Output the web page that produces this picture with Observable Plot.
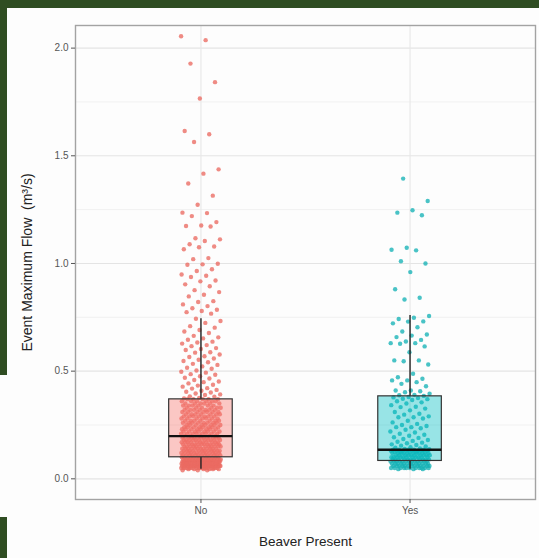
<!DOCTYPE html>
<html><head><meta charset="utf-8">
<script src="https://cdn.jsdelivr.net/npm/d3@7"></script>
<script src="https://cdn.jsdelivr.net/npm/@observablehq/plot@0.6"></script>
<style>
html,body{margin:0;padding:0;background:#fff;}
#wrap{position:relative;width:539px;height:558px;overflow:hidden;background:#fdfdfd;}
#chart{position:absolute;left:0;top:0;}
.band{position:absolute;background:#2f4d22;}
</style></head><body>
<div id="wrap"><div id="chart"></div>
<div class="band" style="left:0;top:0;width:539px;height:8px"></div>
<div class="band" style="left:0;top:0;width:7px;height:375px"></div>
<div class="band" style="left:0;top:517px;width:7px;height:41px"></div>
</div>
<script>
const categories = ["No", "Yes"];
const colors = ["#F8766D", "#00BFC4"];
const dotColors = ["#ea6a62", "#16b2b6"];
const yTicks = [0, 0.5, 1, 1.5, 2];
const yMinor = [0.25, 0.75, 1.25, 1.75];
const xTitle = "Beaver Present";
const yTitle = "Event Maximum Flow\u00a0\u00a0(m\u00b3/s)";

// Beaver absent ("No") flows (dense parts estimated)
const noOutliers = [2.055,2.037,1.928,1.842,1.766,1.615,1.6,1.564,1.437,1.417,1.371,1.315,1.273,1.236,1.234,1.22,1.192,1.176,1.174,1.172,1.117,1.112,1.104,1.089,1.079,1.075,1.066,1.025,1.02,0.999,0.996,0.994,0.973,0.965,0.949,0.943,0.937,0.921,0.917,0.903,0.894,0.876,0.867,0.855,0.847,0.825,0.821,0.81,0.802,0.792,0.785,0.779,0.774,0.767];
const noUpper = [0.743,0.733,0.724,0.709,0.702,0.691,0.684,0.677,0.664,0.657,0.652,0.646,0.637,0.633,0.628,0.621,0.616,0.607,0.603,0.598,0.588,0.586,0.577,0.569,0.566,0.559,0.553,0.547,0.541,0.534,0.529,0.522,0.516,0.511,0.503,0.497,0.493,0.486,0.483,0.476,0.469,0.466,0.459,0.452,0.449,0.443,0.437,0.433,0.428,0.421,0.419,0.413,0.409,0.404,0.401,0.396,0.392,0.389,0.383,0.381,0.375,0.373];
const noMid = [0.37,0.37,0.37,0.37,0.37,0.36,0.36,0.36,0.36,0.36,0.36,0.35,0.35,0.35,0.35,0.35,0.35,0.34,0.34,0.34,0.34,0.34,0.34,0.33,0.33,0.33,0.33,0.33,0.33,0.32,0.32,0.32,0.32,0.32,0.32,0.32,0.31,0.31,0.31,0.31,0.31,0.31,0.31,0.30,0.30,0.30,0.30,0.30,0.30,0.30,0.29,0.29,0.29,0.29,0.29,0.29,0.29,0.28,0.28,0.28,0.28,0.28,0.28,0.28,0.27,0.27,0.27,0.27,0.27,0.27,0.27,0.26,0.26,0.26,0.26,0.26,0.26,0.26,0.26,0.25,0.25,0.25,0.25,0.25,0.25,0.25,0.25,0.24,0.24,0.24,0.24,0.24,0.24,0.24,0.24,0.23,0.23,0.23,0.23,0.23,0.23,0.23,0.23,0.22,0.22,0.22,0.22,0.22,0.22,0.22,0.22,0.21,0.21,0.21,0.21,0.21,0.21,0.21,0.21,0.20,0.20,0.20,0.20,0.20];
const noLowMid = [0.19,0.19,0.19,0.19,0.19,0.19,0.19,0.19,0.19,0.19,0.19,0.18,0.18,0.18,0.18,0.18,0.18,0.18,0.18,0.18,0.18,0.18,0.17,0.17,0.17,0.17,0.17,0.17,0.17,0.17,0.17,0.17,0.17,0.16,0.16,0.16,0.16,0.16,0.16,0.16,0.16,0.16,0.16,0.16,0.16,0.15,0.15,0.15,0.15,0.15,0.15,0.15,0.15,0.15,0.15,0.15,0.15,0.14,0.14,0.14,0.14,0.14,0.14,0.14,0.14,0.14,0.14,0.14,0.14,0.13,0.13,0.13,0.13,0.13,0.13,0.13,0.13,0.13,0.13,0.13,0.13,0.12,0.12,0.12,0.12,0.12,0.12,0.12,0.12,0.12,0.12,0.12,0.12,0.12,0.11,0.11,0.11,0.11,0.11,0.11,0.11,0.11,0.11,0.11,0.11,0.11,0.11,0.10,0.10,0.10,0.10,0.10,0.10,0.10];
const noLow = [0.10,0.10,0.10,0.10,0.10,0.10,0.09,0.09,0.09,0.09,0.09,0.09,0.09,0.09,0.09,0.09,0.09,0.09,0.09,0.09,0.09,0.09,0.09,0.09,0.09,0.09,0.09,0.09,0.08,0.08,0.08,0.08,0.08,0.08,0.08,0.08,0.08,0.08,0.08,0.08,0.08,0.08,0.08,0.08,0.08,0.08,0.08,0.08,0.08,0.08,0.08,0.08,0.07,0.07,0.07,0.07,0.07,0.07,0.07,0.07,0.07,0.07,0.07,0.07,0.07,0.07,0.07,0.07,0.07,0.07,0.07,0.07,0.07,0.07,0.07,0.07,0.06,0.06,0.06,0.06,0.06,0.06,0.06,0.06,0.06,0.06,0.06,0.06,0.06,0.06,0.06,0.06,0.06,0.06,0.06,0.06,0.06,0.06,0.06,0.06,0.05,0.05,0.05,0.05,0.05,0.05,0.05,0.05,0.05,0.05,0.05,0.05,0.05,0.05,0.05,0.05,0.05,0.05,0.045,0.045,0.045,0.045,0.045,0.045,0.04,0.04,0.04];

// Beaver present ("Yes") flows
const yesOutliers = [1.394,1.29,1.247,1.236,1.224,1.073,1.064,1.061,1.01,1.0,0.96,0.88,0.841,0.833];
const yesUpper = [0.756,0.748,0.742,0.731,0.73,0.722,0.704,0.684,0.67,0.665,0.658,0.645,0.638,0.63,0.63,0.627,0.615,0.588,0.55,0.55,0.546,0.531,0.488,0.472,0.465,0.457,0.457,0.449,0.441,0.43,0.41,0.41,0.407,0.402,0.395,0.39,0.388,0.385];
const yesMid = [0.38,0.378,0.375,0.372,0.37,0.366,0.36,0.355,0.35,0.342,0.335,0.333,0.326,0.318,0.31,0.302,0.298,0.29,0.286,0.286,0.28,0.27,0.262,0.255,0.25,0.245,0.24,0.24,0.235,0.228,0.22,0.215,0.209,0.205,0.2,0.193,0.19,0.185,0.18,0.176,0.172,0.168,0.165,0.16,0.157,0.154,0.15,0.147,0.144,0.141,0.139,0.137];
const yesLowMid = [0.135,0.135,0.135,0.135,0.135,0.13,0.13,0.13,0.13,0.13,0.13,0.13,0.13,0.125,0.125,0.125,0.125,0.125,0.12,0.12,0.12,0.12,0.12,0.12,0.12,0.12,0.12,0.12,0.11,0.11,0.11,0.11,0.11,0.11,0.11,0.11,0.11,0.11,0.10,0.10,0.10,0.10,0.10,0.10,0.10,0.10,0.10,0.10,0.10,0.09,0.09,0.09,0.09,0.09,0.09,0.09,0.09,0.09,0.09,0.09];
const yesLow = [0.08,0.08,0.08,0.08,0.08,0.08,0.08,0.08,0.08,0.08,0.08,0.08,0.08,0.07,0.07,0.07,0.07,0.07,0.07,0.07,0.07,0.07,0.07,0.07,0.07,0.07,0.06,0.06,0.06,0.06,0.06,0.06,0.06,0.06,0.06,0.06,0.06,0.06,0.06,0.05,0.05,0.05,0.05,0.05,0.05,0.05,0.05,0.05,0.05,0.05,0.045,0.045,0.045];

// Box-plot summaries: No, Yes
const boxQ1 = [0.100, 0.083];
const boxMedian = [0.198, 0.135];
const boxQ3 = [0.369, 0.383];
const whiskerLow = [0.045, 0.045];
const whiskerHigh = [0.743, 0.758];

const noFlow = [...noOutliers, ...noUpper, ...noMid, ...noLowMid, ...noLow];
const yesFlow = [...yesOutliers, ...yesUpper, ...yesMid, ...yesLowMid, ...yesLow];

const jitter = i => (((i * 0.6180339887) % 1) - 0.5) * 0.19;
const points = [
  ...noFlow.map((v, i) => ({g: 0, v, x: 1 + jitter(i)})),
  ...yesFlow.map((v, i) => ({g: 1, v, x: 2 + jitter(i + 7)}))
];
const boxes = categories.map((c, i) => ({
  pos: i + 1, q1: boxQ1[i], med: boxMedian[i], q3: boxQ3[i],
  lo: whiskerLow[i], hi: whiskerHigh[i], fill: colors[i]
}));

const chart = Plot.plot({
  width: 539, height: 558,
  marginLeft: 75, marginRight: 4, marginTop: 25, marginBottom: 59,
  style: {fontFamily: "'Liberation Sans', Arial, sans-serif", background: "transparent"},
  x: {domain: [0.4, 2.6]},
  y: {domain: [-0.096, 2.105]},
  color: {type: "identity"},
  marks: [
    Plot.ruleY(yMinor, {stroke: "#f1f1f1", strokeWidth: 1}),
    Plot.ruleY(yTicks, {stroke: "#e4e4e4", strokeWidth: 1.1}),
    Plot.ruleX([1, 2], {stroke: "#e8e8e8", strokeWidth: 1.1}),
    Plot.dot(points, {x: "x", y: "v", r: 2.2, fill: d => dotColors[d.g], fillOpacity: 0.78, stroke: null}),
    Plot.ruleX(boxes, {x: "pos", y1: "q3", y2: "hi", stroke: "#222", strokeWidth: 1.4}),
    Plot.ruleX(boxes, {x: "pos", y1: "lo", y2: "q1", stroke: "#222", strokeWidth: 1.4}),
    Plot.rect(boxes, {x1: d => d.pos - 0.152, x2: d => d.pos + 0.152, y1: "q1", y2: "q3", fill: "fill", fillOpacity: 0.4, stroke: "#333", strokeWidth: 1.2}),
    Plot.ruleY(boxes, {y: "med", x1: d => d.pos - 0.152, x2: d => d.pos + 0.152, stroke: "#111", strokeWidth: 2.3}),
    Plot.frame({stroke: "#a3a3a3", strokeWidth: 1.4}),
    Plot.axisY({ticks: yTicks, tickFormat: d3.format(".1f"), tickSize: 4, tickPadding: 3, fontSize: 10, color: "#555", label: null}),
    Plot.axisX({ticks: [1, 2], tickFormat: i => categories[i - 1], tickSize: 4, tickPadding: 3, fontSize: 10, color: "#555", label: null}),
    Plot.text([yTitle], {text: d => d, frameAnchor: "left", dx: -48, rotate: -90, textAnchor: "middle", lineAnchor: "middle", fontSize: 14, fill: "#222"}),
    Plot.text([xTitle], {text: d => d, frameAnchor: "bottom", dy: 42, textAnchor: "middle", lineAnchor: "middle", fontSize: 13.5, fill: "#222"})
  ]
});
document.getElementById("chart").appendChild(chart);
</script>
</body></html>
